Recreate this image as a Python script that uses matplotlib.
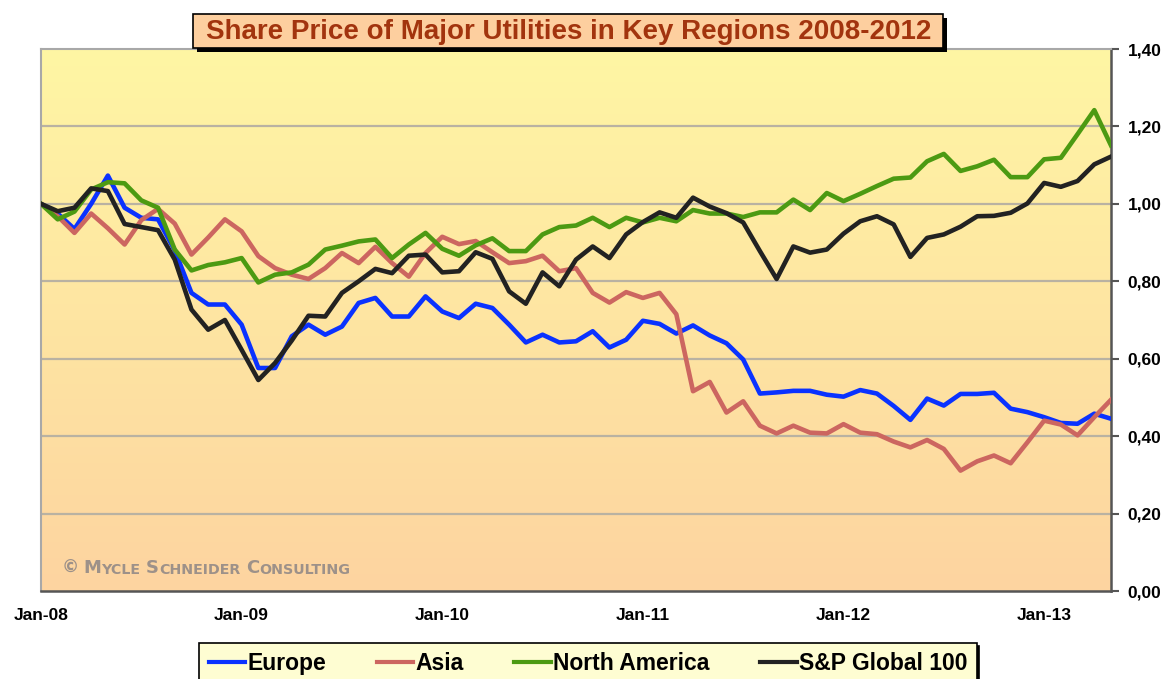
import numpy as np
import matplotlib
matplotlib.use("Agg")
import matplotlib.pyplot as plt
from matplotlib.patches import Rectangle

# ---------- Data (monthly, Jan-08 .. May-13, index 1.00 = Jan-08) ----------
tick_pos = [0, 12, 24, 36, 48, 60]
tick_labels = ["Jan-08", "Jan-09", "Jan-10", "Jan-11", "Jan-12", "Jan-13"]

europe = [
    1.00, 0.975, 0.935, 1.00, 1.073, 0.99, 0.964, 0.96, 0.88, 0.77, 0.74, 0.74,
    0.688, 0.576, 0.576, 0.658, 0.688, 0.662, 0.683, 0.744, 0.757, 0.709, 0.709, 0.761,
    0.722, 0.705, 0.742, 0.731, 0.688, 0.642, 0.662, 0.642, 0.645, 0.671, 0.629, 0.649,
    0.698, 0.69, 0.665, 0.686, 0.66, 0.64, 0.598, 0.51, 0.513, 0.517, 0.517, 0.507,
    0.502, 0.519, 0.51, 0.478, 0.442, 0.497, 0.479, 0.509, 0.509, 0.512, 0.471, 0.462,
    0.449, 0.434, 0.432, 0.458, 0.445,
]
asia = [
    1.00, 0.968, 0.925, 0.975, 0.937, 0.895, 0.958, 0.987, 0.949, 0.869, 0.913, 0.96,
    0.929, 0.865, 0.834, 0.817, 0.806, 0.834, 0.873, 0.847, 0.889, 0.847, 0.812, 0.873,
    0.915, 0.896, 0.904, 0.875, 0.847, 0.852, 0.866, 0.826, 0.834, 0.77, 0.745, 0.772,
    0.757, 0.77, 0.715, 0.516, 0.54, 0.461, 0.49, 0.427, 0.407, 0.427, 0.409, 0.407,
    0.431, 0.409, 0.405, 0.386, 0.371, 0.39, 0.367, 0.311, 0.335, 0.35, 0.33, 0.384,
    0.44, 0.43, 0.402, 0.449, 0.494,
]
north_america = [
    1.00, 0.96, 0.98, 1.037, 1.056, 1.053, 1.009, 0.99, 0.882, 0.828, 0.842, 0.849,
    0.86, 0.797, 0.817, 0.823, 0.843, 0.882, 0.892, 0.903, 0.908, 0.86, 0.895, 0.925,
    0.884, 0.866, 0.893, 0.911, 0.878, 0.878, 0.921, 0.94, 0.944, 0.964, 0.94, 0.964,
    0.952, 0.964, 0.955, 0.984, 0.975, 0.975, 0.966, 0.978, 0.978, 1.011, 0.984, 1.028,
    1.007, 1.026, 1.046, 1.065, 1.068, 1.11, 1.129, 1.085, 1.097, 1.114, 1.069, 1.069,
    1.115, 1.119, 1.18, 1.242, 1.151,
]
sp_global = [
    1.00, 0.981, 0.99, 1.04, 1.033, 0.948, 0.94, 0.932, 0.856, 0.727, 0.675, 0.70,
    0.623, 0.545, 0.589, 0.647, 0.711, 0.709, 0.77, 0.80, 0.832, 0.821, 0.866, 0.869,
    0.823, 0.826, 0.875, 0.858, 0.774, 0.742, 0.823, 0.787, 0.856, 0.89, 0.86, 0.921,
    0.953, 0.978, 0.964, 1.016, 0.993, 0.976, 0.952, 0.878, 0.806, 0.89, 0.874, 0.882,
    0.923, 0.955, 0.968, 0.947, 0.863, 0.912, 0.921, 0.941, 0.968, 0.969, 0.977, 1.001,
    1.054, 1.044, 1.059, 1.102, 1.122,
]
months = np.arange(len(europe))

series = [
    ("Europe", europe, "#0a32ff"),
    ("Asia", asia, "#cc6660"),
    ("North America", north_america, "#4c9a12"),
    ("S&P Global 100", sp_global, "#222222"),
]

plt.rcParams["font.family"] = ["Liberation Sans", "DejaVu Sans"]
W, H = 1167, 679


def fx(x):
    return x / W


def fy(y):
    return 1 - y / H


fig = plt.figure(figsize=(W / 100, H / 100), dpi=100)
fig.patch.set_facecolor("white")
ax = fig.add_axes([fx(41), fy(591), (1111 - 41) / W, (591 - 49) / H])

# ---------- gradient background ----------
top_c = np.array([255, 246, 164]) / 255
bot_c = np.array([253, 212, 160]) / 255
t = np.linspace(0, 1, 256)[:, None]
grad = top_c * (1 - t) + bot_c * t
ax.imshow(grad[:, None, :], extent=[0, months[-1], 0, 1.4], aspect="auto",
          zorder=0, interpolation="bilinear")

for yv in np.arange(0.2, 1.4, 0.2):
    ax.axhline(yv, color="#b9b2a2", lw=1.6, zorder=1)

for name, vals, col in series:
    ax.plot(months, vals, color=col, lw=3.3, label=name, zorder=3,
            solid_joinstyle="round")

ax.set_xlim(0, months[-1])
ax.set_ylim(0, 1.4)

# axes frame
for side in ("left", "top"):
    ax.spines[side].set_color("#a8a8a8")
    ax.spines[side].set_linewidth(1.5)
for side in ("right", "bottom"):
    ax.spines[side].set_color("#555555")
    ax.spines[side].set_linewidth(1.8)

ax.yaxis.tick_right()
yt = np.arange(0, 1.41, 0.2)
ax.set_yticks(yt)
ax.set_yticklabels([f"{v:.2f}".replace(".", ",") for v in yt],
                   fontsize=12.5, fontweight="bold")
ax.tick_params(axis="y", direction="out", length=6, width=1.5, color="#555555",
               pad=6)
ax.set_xticks(tick_pos)
ax.set_xticklabels(tick_labels, fontsize=12.5, fontweight="bold")
ax.tick_params(axis="x", length=0, pad=12)

# ---------- watermark ----------
wm = dict(fontweight="bold", color="#9d9189", va="bottom", ha="left",
          zorder=2, family="DejaVu Sans")
pieces = [("\u00a9", 12.5, 0), ("M", 13, 3), ("YCLE", 10.3, 0), ("S", 13, 4),
          ("CHNEIDER", 10.3, 0), ("C", 13, 4), ("ONSULTING", 10.3, 0)]
prev = ax.text(21 / 1070, 14 / 542, pieces[0][0], transform=ax.transAxes,
               fontsize=pieces[0][1], **wm)
for s, size, gap in pieces[1:]:
    prev = ax.annotate(s, xy=(1, 0), xycoords=prev, xytext=(gap, 0),
                       textcoords="offset points", fontsize=size, **wm)

# ---------- title box with shadow ----------
fig.add_artist(Rectangle((fx(197), fy(52)), (943 - 193) / W, (48 - 14) / H,
                         transform=fig.transFigure, fc="black", ec="none"))
fig.add_artist(Rectangle((fx(193), fy(48)), (943 - 193) / W, (48 - 14) / H,
                         transform=fig.transFigure, fc="#fdcf9f", ec="black",
                         lw=1.2))
fig.text(fx(569), fy(32), "Share Price of Major Utilities in Key Regions 2008-2012",
         ha="center", va="center", fontsize=20, fontweight="bold",
         color="#a2340e")

# ---------- legend ----------
leg = fig.legend(loc="upper center", bbox_to_anchor=(fx(588), fy(643)), ncol=4,
                 frameon=True, fancybox=False,
                 shadow={"color": "black", "alpha": 1},
                 prop={"size": 16.5, "weight": "bold"}, handlelength=1.6,
                 handletextpad=0.1, columnspacing=2.2, borderpad=0.4,
                 borderaxespad=0)
leg.get_frame().set_facecolor("#fefdd2")
leg.get_frame().set_edgecolor("black")
leg.get_frame().set_linewidth(1.2)
leg.get_frame().set_alpha(1)
for h in leg.legend_handles:
    h.set_linewidth(3)

fig.savefig("out.png", dpi=100, facecolor="white")
